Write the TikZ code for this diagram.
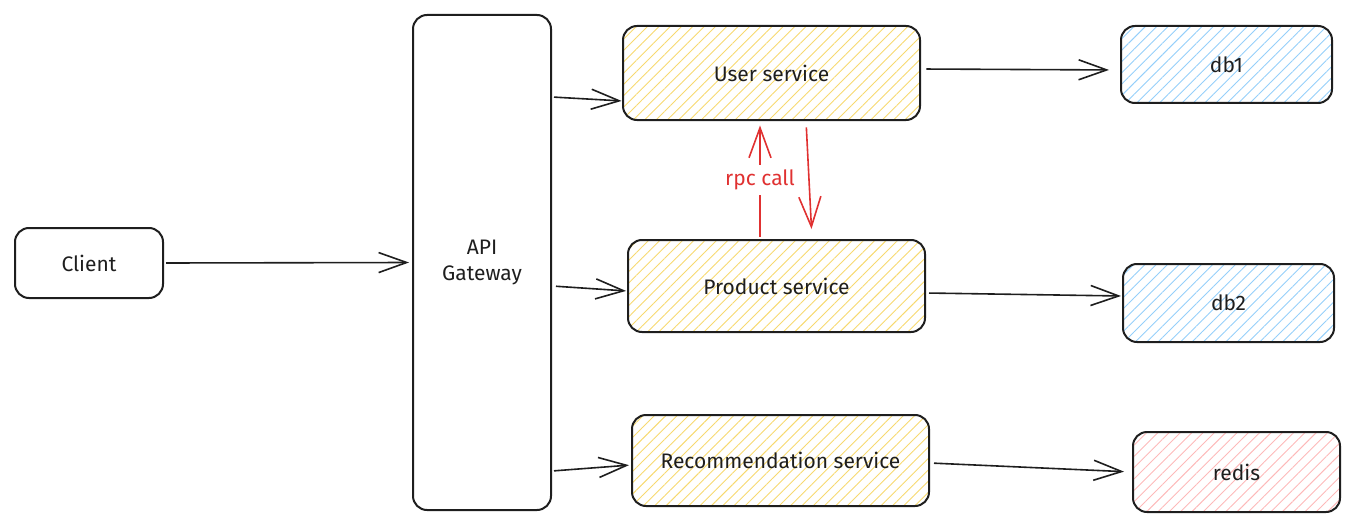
\documentclass[tikz,border=0pt]{standalone}
\usepackage{fontspec}
\setmainfont{Fira Sans}
\usepackage{tikz}
\usetikzlibrary{arrows.meta}
\usetikzlibrary{patterns.meta}
\definecolor{inkblack}{HTML}{1E1E1E}
\definecolor{hatchyellow}{HTML}{F7D96F}
\definecolor{hatchblue}{HTML}{95CFFA}
\definecolor{hatchred}{HTML}{FDB9B9}
\definecolor{rpcred}{HTML}{E03131}

\begin{document}
\begin{tikzpicture}[
x=1pt, y=-1pt,
every node/.style={font=\fontsize{21}{25}\selectfont, text=inkblack},
plainbox/.style={rectangle, draw=inkblack, line width=2pt, rounded corners=14pt, align=center},
servicebox/.style={plainbox, pattern={Lines[angle=45, distance=8pt, line width=0.9pt]}, pattern color=hatchyellow},
dbbox/.style={plainbox, pattern={Lines[angle=45, distance=8pt, line width=0.9pt]}, pattern color=hatchblue},
cachebox/.style={plainbox, pattern={Lines[angle=45, distance=8pt, line width=0.9pt]}, pattern color=hatchred},
flow/.style={draw=inkblack, line width=1.6pt, -{Straight Barb[length=28pt, width=20pt]}},
rpcflow/.style={draw=rpcred, line width=1.6pt, -{Straight Barb[length=30pt, width=22pt]}},
]
\useasboundingbox (0,0) rectangle (1361,527);

%Nodes
\node[plainbox, minimum width=148pt, minimum height=70pt]		(client)	at (89,263)		{Client};
\node[plainbox, minimum width=138pt, minimum height=495pt]		(gateway)	at (482,262.5)	{API\\Gateway};
\node[servicebox, minimum width=297pt, minimum height=94pt]		(user)		at (771.5,73)	{User service};
\node[servicebox, minimum width=297pt, minimum height=92pt]		(product)	at (776.5,286)	{Product service};
\node[servicebox, minimum width=297pt, minimum height=91pt]		(recommend)	at (780.5,460.5)	{Recommendation service};
\node[dbbox, minimum width=211pt, minimum height=77pt]			(db1)		at (1226.5,64.5)	{db1};
\node[dbbox, minimum width=211pt, minimum height=78pt]			(db2)		at (1228.5,303)	{db2};
\node[cachebox, minimum width=207pt, minimum height=80pt]		(redis)		at (1236.5,472)	{redis};

%Lines
\draw[flow, shorten <=2pt, shorten >=3pt] (client.east) -- (gateway.west);
\draw[flow, shorten <=2pt, shorten >=1pt] ([yshift=-24pt]gateway.east |- user.west) -- ([yshift=-28pt]user.west);
\draw[flow, shorten <=4pt, shorten >=1pt] (gateway.east |- product.west) -- ([yshift=-5pt]product.west);
\draw[flow, shorten <=2pt, shorten >=2pt] ([yshift=-10.5pt]gateway.east |- recommend.west) -- ([yshift=-4.5pt]recommend.west);
\draw[flow, shorten <=6pt, shorten >=11pt] ([yshift=4pt]user.east) -- ([yshift=-5.5pt]db1.west);
\draw[flow, shorten <=3pt, shorten >=1pt] ([yshift=-7pt]product.east) -- ([yshift=7pt]db2.west);
\draw[flow, shorten <=4pt, shorten >=8pt] ([yshift=-2.5pt]recommend.east) -- (redis.west);

\draw[rpcflow, shorten <=2pt, shorten >=5pt] ([xshift=-16.5pt]product.north) -- ([xshift=-11.5pt]user.south)
	node[midway, fill=white, inner sep=5pt, text=rpcred] (rpclabel) {rpc call};
\draw[rpcflow, shorten <=7pt, shorten >=10pt] ([xshift=34.5pt]user.south) -- ([xshift=35.5pt]product.north);
\end{tikzpicture}
\end{document}
